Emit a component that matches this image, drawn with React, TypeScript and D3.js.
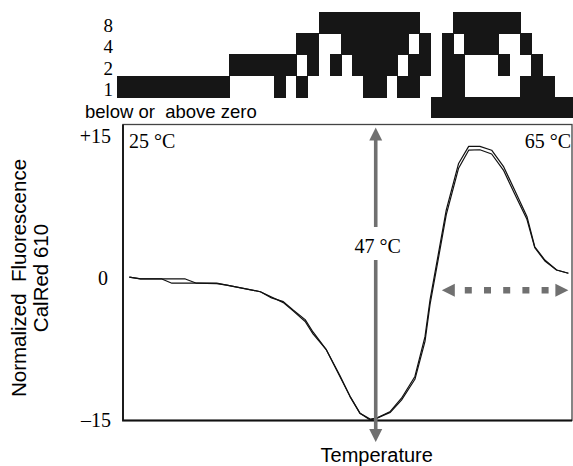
import * as React from "react";
import * as d3 from "d3";

// one column of the code strip per degree
const cycleTemps = [25, 26, 27, 28, 29, 30, 31, 32, 33, 34, 35, 36, 37, 38, 39, 40, 41, 42, 43, 44, 45,
  46, 47, 48, 49, 50, 51, 52, 53, 54, 55, 56, 57, 58, 59, 60, 61, 62, 63, 64, 65];
const codeMagnitudes = [1, 1, 1, 1, 1, 1, 1, 1, 1, 1, 2, 2, 2, 2, 3, 2, 5, 6, 8, 10, 12,
  14, 15, 15, 14, 13, 11, 6, 0, 7, 11, 12, 12, 12, 10, 8, 5, 3, 1, 0, 0];
const codeAboveZero = [0, 0, 0, 0, 0, 0, 0, 0, 0, 0, 0, 0, 0, 0, 0, 0, 0, 0, 0, 0, 0,
  0, 0, 0, 0, 0, 0, 0, 1, 1, 1, 1, 1, 1, 1, 1, 1, 1, 1, 1, 1];
const bitRows = ["8", "4", "2", "1"];

// melt curves (two runs)
const temps = [25.6, 26.6, 28.5, 29.4, 30.6, 31.6, 33.4, 34.3, 37.3, 38.3, 39.35, 40.25, 41.3, 42.0,
  43.2, 44.4, 45.3, 46.2, 47.1, 47.7, 48.9, 49.9, 51.1, 52.0, 52.45, 53.2, 53.9, 55.0, 55.9, 56.9,
  57.95, 59.0, 60.0, 61.1, 61.8, 62.7, 63.75, 64.8];
const runA = [0.1, -0.1, -0.1, -0.1, -0.1, -0.55, -0.55, -0.75, -1.45, -2.1, -2.5, -3.4, -4.4, -5.7,
  -7.6, -10.4, -12.5, -14.3, -14.9, -14.8, -14.1, -12.7, -10.4, -6.2, -2.3, 2.6, 7.2, 12.1, 13.9, 13.9,
  13.5, 11.8, 9.3, 6.5, 3.3, 1.9, 0.85, 0.5];
const runB = [0.1, -0.1, -0.1, -0.55, -0.55, -0.55, -0.6, -0.75, -1.45, -2.0, -2.6, -3.5, -4.6, -5.9,
  -7.6, -10.3, -12.5, -14.3, -15.0, -14.8, -14.2, -12.9, -10.7, -6.7, -2.8, 2.1, 6.7, 11.6, 13.5, 13.55,
  13.1, 11.4, 8.9, 6.2, 3.2, 1.8, 0.85, 0.5];

const yTicks = [15, 0, -15];
const yTickLabels = ["+15", "0", "\u201315"];

const markTemp = 47.6;
const rangeStart = 53.5;
const rangeEnd = 64.8;
const rangeLevel = -1.3;

function drawChart(svgRef: React.RefObject<SVGSVGElement | null>) {
  const width = 573;
  const height = 466;
  const frame = { left: 123, right: 572, top: 124.5, bottom: 420.5 };
  const serif = "'Liberation Serif', 'Times New Roman', serif";
  const sans = "'Liberation Sans', Arial, sans-serif";
  const grey = "#707070";

  const svg = d3.select(svgRef.current).attr("width", width).attr("height", height);
  svg.selectAll("*").remove();

  const x = d3.scaleLinear().domain([25, 65]).range([122.6, 570.6]);
  const y = d3.scaleLinear().domain([-15, 15]).range([420, 136]);
  const col = d3.scaleBand().domain(cycleTemps.map(String)).range([117, 117 + 11.2 * cycleTemps.length]);
  const row = d3.scaleBand().domain([...bitRows, "sign"]).range([12, 118]);

  // code strip
  const strip = svg.append("g").attr("shape-rendering", "crispEdges");
  cycleTemps.forEach((t, i) => {
    bitRows.forEach((b) => {
      if (codeMagnitudes[i] & +b) {
        strip.append("rect")
          .attr("x", col(String(t)))
          .attr("y", row(b))
          .attr("width", col.bandwidth() + 0.8)
          .attr("height", row.bandwidth() + 0.8)
          .attr("fill", "#161616");
      }
    });
    if (codeAboveZero[i]) {
      strip.append("rect")
        .attr("x", col(String(t)))
        .attr("y", row("sign"))
        .attr("width", col.bandwidth() + 0.8)
        .attr("height", row.bandwidth())
        .attr("fill", "#161616");
    }
  });

  svg.selectAll(".bitlabel")
    .data(bitRows)
    .enter()
    .append("text")
    .attr("x", 113)
    .attr("y", (d) => (row(d) as number) + row.bandwidth() - 1)
    .attr("text-anchor", "end")
    .attr("font-family", serif)
    .attr("font-size", 19)
    .text((d) => d);

  svg.append("text")
    .attr("x", 85)
    .attr("y", 118)
    .attr("font-family", sans)
    .attr("font-size", 18.5)
    .style("white-space", "pre")
    .text("below or  above zero");

  // frame
  svg.append("rect")
    .attr("x", frame.left)
    .attr("y", frame.top)
    .attr("width", frame.right - frame.left)
    .attr("height", frame.bottom - frame.top)
    .attr("fill", "none")
    .attr("stroke", "#444")
    .attr("stroke-width", 1.3);
  svg.append("path")
    .attr("d", `M${frame.left},${frame.top}V${frame.bottom}H${frame.right}`)
    .attr("fill", "none")
    .attr("stroke", "#111")
    .attr("stroke-width", 1.8);

  // y tick labels
  svg.selectAll(".ytick")
    .data(yTicks)
    .enter()
    .append("text")
    .attr("x", (d) => (d === 0 ? 108 : 111))
    .attr("y", (d) => y(d) + 7)
    .attr("text-anchor", "end")
    .attr("font-family", serif)
    .attr("font-size", 20)
    .text((d, i) => yTickLabels[i]);

  // curves
  const line = d3.line<number>()
    .x((d, i) => x(temps[i]))
    .y((d) => y(d));
  [runA, runB].forEach((run) => {
    svg.append("path")
      .datum(run)
      .attr("d", line)
      .attr("fill", "none")
      .attr("stroke", "#111")
      .attr("stroke-width", 1.2)
      .attr("stroke-linejoin", "round");
  });

  // vertical arrow at the minimum
  const ax = x(markTemp);
  const labelY = 246;
  svg.append("rect").attr("x", ax - 1.8).attr("y", 138).attr("width", 3.6).attr("height", 227 - 138).attr("fill", grey);
  svg.append("rect").attr("x", ax - 1.8).attr("y", 260).attr("width", 3.6).attr("height", 432 - 260).attr("fill", grey);
  svg.append("path").attr("d", `M${ax},127.5L${ax + 6.5},140.5L${ax - 6.5},140.5Z`).attr("fill", grey);
  svg.append("path").attr("d", `M${ax},442L${ax + 6.5},429L${ax - 6.5},429Z`).attr("fill", grey);
  svg.append("text")
    .attr("x", ax + 2)
    .attr("y", labelY + 7)
    .attr("text-anchor", "middle")
    .attr("font-family", serif)
    .attr("font-size", 20)
    .text("47 \u00b0C");

  // dashed range arrow
  const rx0 = x(rangeStart);
  const rx1 = x(rangeEnd);
  const ry = y(rangeLevel);
  svg.append("line")
    .attr("x1", rx0 + 23)
    .attr("x2", rx1 - 18)
    .attr("y1", ry)
    .attr("y2", ry)
    .attr("stroke", grey)
    .attr("stroke-width", 6.5)
    .attr("stroke-dasharray", "7 12.2");
  svg.append("path").attr("d", `M${rx0},${ry}L${rx0 + 13},${ry - 6.5}L${rx0 + 13},${ry + 6.5}Z`).attr("fill", grey);
  svg.append("path").attr("d", `M${rx1},${ry}L${rx1 - 13},${ry - 6.5}L${rx1 - 13},${ry + 6.5}Z`).attr("fill", grey);

  // corner labels
  svg.append("text").attr("x", 129).attr("y", 148).attr("font-family", serif).attr("font-size", 20).text("25 \u00b0C");
  svg.append("text").attr("x", 571).attr("y", 148).attr("text-anchor", "end")
    .attr("font-family", serif).attr("font-size", 20).text("65 \u00b0C");

  svg.append("text")
    .attr("x", ax + 1)
    .attr("y", 462)
    .attr("text-anchor", "middle")
    .attr("font-family", sans)
    .attr("font-size", 20)
    .text("Temperature");

  const ylab = svg.append("g").attr("transform", "translate(0,278) rotate(-90)");
  ylab.append("text")
    .attr("x", 0)
    .attr("y", 26)
    .attr("text-anchor", "middle")
    .attr("font-family", sans)
    .attr("font-size", 20.5)
    .style("white-space", "pre")
    .text("Normalized  Fluorescence");
  ylab.append("text")
    .attr("x", 0)
    .attr("y", 48)
    .attr("text-anchor", "middle")
    .attr("font-family", sans)
    .attr("font-size", 20.5)
    .text("CalRed 610");
}

const App = () => {
  const svgRef = React.useRef<SVGSVGElement | null>(null);

  React.useEffect(() => {
    drawChart(svgRef);
  }, [svgRef]);

  return (
    <div style={{ position: "absolute", left: 0, top: 0, background: "#fff" }}>
      <svg ref={svgRef} style={{ display: "block" }} />
    </div>
  );
};

export default App;
